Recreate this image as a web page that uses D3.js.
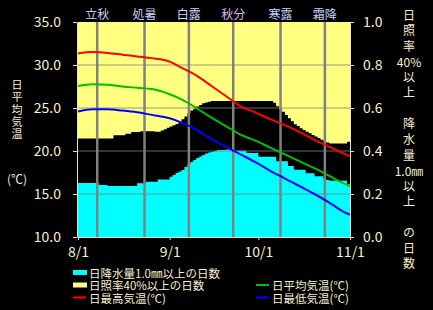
<!DOCTYPE html>
<html>
<head>
<meta charset="utf-8">
<script src="https://cdn.jsdelivr.net/npm/d3@7"></script>
<style>
body { margin: 0; background: #000; }
text { font-family: "Noto Sans CJK JP", "Noto Sans", sans-serif; fill: #f5efcf; }
.vert { writing-mode: vertical-rl; text-orientation: upright; }
</style>
</head>
<body>
<svg id="chart" width="433" height="310"></svg>
<script>
// daily share of days (Aug 1 .. Oct 31)
var sunnyRatio = [
  0.542,0.542,0.542,0.542,0.542,0.542,0.542,0.542,0.542,0.542,0.542,0.542,
  0.527,0.527,0.527,0.527,0.520,0.520,0.512,0.512,0.512,
  0.508,0.508,0.508,0.508,0.508,0.510,0.510,
  0.505,0.499,0.492,0.486,0.480,0.474,0.466,0.452,0.440,0.424,0.412,0.403,0.393,0.386,0.378,0.374,0.371,
  0.368,0.368,0.368,0.368,0.368,0.368,0.368,0.368,0.368,0.368,0.368,0.368,0.368,0.368,0.368,0.368,0.368,0.368,0.368,0.368,0.368,
  0.376,0.392,0.405,0.418,0.432,0.448,0.462,0.475,0.484,0.494,0.502,0.510,0.518,0.525,0.533,0.540,0.548,0.556,0.561,
  0.565,0.565,0.565,0.565,0.565,0.565,0.557
];
var rainRatio = [
  0.251,0.251,0.251,0.251,0.251,0.251,0.251,0.242,0.242,0.242,
  0.237,0.237,0.237,0.237,0.237,0.237,0.237,0.237,0.237,0.237,
  0.250,0.250,0.250,0.257,0.257,0.257,0.257,0.268,0.268,0.268,0.268,
  0.280,0.288,0.298,0.305,0.312,0.326,0.340,0.349,0.358,0.367,0.374,0.381,0.388,0.393,0.397,0.400,
  0.405,0.405,0.405,0.407,0.407,0.407,0.401,0.401,0.401,0.401,0.391,0.391,0.391,0.391,
  0.373,0.373,0.373,0.373,0.373,0.373,0.352,0.352,0.352,0.352,0.330,0.330,
  0.313,0.313,0.313,0.313,0.297,0.297,0.297,0.282,0.282,0.282,0.270,0.265,
  0.262,0.262,0.262,0.262,0.262,0.262,0.245
];

// temperatures, sampled at day offsets from Aug 1
var tempDays = [0,5,10,15,20,25,31,35,40,45,50,55,60,65,70,75,80,85,90,92];
var tempMax = [31.35,31.5,31.4,31.2,31.0,30.8,30.4,29.7,28.8,27.6,26.4,25.2,24.5,23.7,23.0,22.2,21.3,20.5,19.7,19.4];
var tempAvg = [27.55,27.75,27.7,27.5,27.35,27.2,26.6,26.0,25.0,23.9,22.9,21.9,21.2,20.4,19.6,18.8,18.0,17.1,16.2,15.9];
var tempMin = [24.6,24.85,24.85,24.7,24.5,24.2,23.8,23.3,22.5,21.4,20.5,19.6,18.7,17.7,16.8,15.9,15.0,14.0,12.9,12.6];

var sekkiNames = ["立秋","処暑","白露","秋分","寒露","霜降"];
var sekkiDates = ["2021-08-07 12","2021-08-23 12","2021-09-07 12","2021-09-22 12","2021-10-08 12","2021-10-23 12"];
var sekkiColors = ["#c4d0f8","#c4d0f8","#c8d8f8","#e2b2f4","#c4d0f8","#c4d0f8"];

var monthTicks = ["2021-08-01","2021-09-01","2021-10-01","2021-11-01"];
var tempTicks = [10,15,20,25,30,35];
var ratioTicks = [0,0.2,0.4,0.6,0.8,1.0];
var gridTemps = [15,20,25,30];

var leftTitle = "日平均気温";
var rightTitle = ["日","照","率","40%","以","上","","降","水","量","1.0㎜","以","上","","の","日","数"];

var parseDay = d3.timeParse("%Y-%m-%d");
var parseHour = d3.timeParse("%Y-%m-%d %H");
var start = parseDay("2021-08-01");

var svg = d3.select("#chart");
var cream = "#e8e0c0";

var x = d3.scaleTime().domain([start, parseDay("2021-11-01")]).range([78, 350]);
var yT = d3.scaleLinear().domain([10, 35]).range([237, 22]);
var yR = d3.scaleLinear().domain([0, 1]).range([237, 22]);

function daily(arr) {
    var pts = arr.map(function (v, i) { return {date: d3.timeDay.offset(start, i), v: v}; });
    pts.push({date: d3.timeDay.offset(start, arr.length), v: arr[arr.length - 1]});
    return pts;
}

// sunny days share, hanging from the top
svg.append("path")
    .datum(daily(sunnyRatio))
    .attr("fill", "#ffff80")
    .attr("d", d3.area().curve(d3.curveStepAfter)
        .x(function (d) { return x(d.date); })
        .y0(function (d) { return yR(1 - d.v); })
        .y1(yR(1)));

// rainy days share, from the bottom
svg.append("path")
    .datum(daily(rainRatio))
    .attr("fill", "#00ffff")
    .attr("d", d3.area().curve(d3.curveStepAfter)
        .x(function (d) { return x(d.date); })
        .y0(yR(0))
        .y1(function (d) { return yR(d.v); }));

svg.append("g").selectAll("line")
    .data(gridTemps)
    .join("line")
    .attr("x1", 78).attr("x2", 350)
    .attr("y1", function (d) { return yT(d); })
    .attr("y2", function (d) { return yT(d); })
    .attr("stroke", "#808080")
    .attr("stroke-opacity", 0.4)
    .attr("stroke-width", 2);

var sekki = sekkiNames.map(function (n, i) { return {name: n, date: parseHour(sekkiDates[i]), color: sekkiColors[i]}; });

svg.append("g").selectAll("line")
    .data(sekki)
    .join("line")
    .attr("x1", function (d) { return x(d.date); })
    .attr("x2", function (d) { return x(d.date); })
    .attr("y1", 22).attr("y2", 237)
    .attr("stroke", "#808080")
    .attr("stroke-width", 2.5);

svg.append("g").selectAll("text")
    .data(sekki)
    .join("text")
    .attr("x", function (d) { return x(d.date); })
    .attr("y", 13)
    .attr("text-anchor", "middle")
    .attr("dominant-baseline", "central")
    .style("font-size", "12px")
    .style("fill", function (d) { return d.color; })
    .text(function (d) { return d.name; });

function drawTemp(vals, color) {
    var pts = tempDays.map(function (d, i) { return {date: d3.timeDay.offset(start, d), v: vals[i]}; });
    svg.append("path")
        .datum(pts)
        .attr("fill", "none")
        .attr("stroke", color)
        .attr("stroke-width", 2)
        .attr("d", d3.line().curve(d3.curveMonotoneX)
            .x(function (d) { return x(d.date); })
            .y(function (d) { return yT(d.v); }));
}
drawTemp(tempMax, "#ff0000");
drawTemp(tempAvg, "#00c000");
drawTemp(tempMin, "#0000ff");

// axes
function styleAxis(g) {
    g.selectAll("path, line").attr("stroke", cream);
    g.selectAll("text").attr("fill", "#f5efcf").style("font-size", "14px")
        .style("font-family", "\"Noto Sans CJK JP\", sans-serif");
}

svg.append("g")
    .attr("transform", "translate(77,0)")
    .call(d3.axisLeft(yT).tickValues(tempTicks).tickFormat(d3.format(".1f")).tickSize(4).tickSizeOuter(0).tickPadding(12))
    .call(styleAxis);

svg.append("g")
    .attr("transform", "translate(350,0)")
    .call(d3.axisRight(yR).tickValues(ratioTicks).tickFormat(d3.format(".1f")).tickSize(4).tickSizeOuter(0).tickPadding(9))
    .call(styleAxis);

svg.append("g")
    .attr("transform", "translate(0,237)")
    .call(d3.axisBottom(x).tickValues(monthTicks.map(parseDay)).tickFormat(d3.timeFormat("%-m/%-d")).tickSize(3).tickSizeOuter(0).tickPadding(7))
    .call(styleAxis);

// left title, one vertical run
svg.append("text")
    .attr("class", "vert")
    .attr("x", 17)
    .attr("y", 79.5)
    .style("font-size", "11px")
    .style("letter-spacing", "1.3px")
    .text(leftTitle);

svg.append("text")
    .attr("x", 17).attr("y", 178)
    .attr("text-anchor", "middle")
    .attr("dominant-baseline", "central")
    .style("font-size", "12px")
    .text("(℃)");

// right title: single characters grouped into vertical runs, wide rows horizontal
var rowStep = 15.55, rowTop = 15;
var runs = [], cur = null;
rightTitle.forEach(function (t, i) {
    if (t.length === 1) {
        if (!cur) { cur = {text: "", row: i, vert: true}; runs.push(cur); }
        cur.text += t;
    } else {
        cur = null;
        if (t.length > 1) runs.push({text: t, row: i, vert: false});
    }
});

runs.forEach(function (r) {
    var t = svg.append("text").style("font-size", "12px").text(r.text);
    if (r.vert) {
        t.attr("class", "vert")
            .attr("x", 409)
            .attr("y", rowTop + r.row * rowStep - 6)
            .style("letter-spacing", (rowStep - 12) + "px");
    } else {
        t.attr("x", 409)
            .attr("y", rowTop + r.row * rowStep)
            .attr("text-anchor", "middle")
            .attr("dominant-baseline", "central");
    }
});

// legend
var legendLabels = ["日降水量1.0㎜以上の日数","日照率40%以上の日数","日平均気温(℃)","日最高気温(℃)","日最低気温(℃)"];
var legendColors = ["#00ffff","#ffff80","#00c000","#ff0000","#0000ff"];
var legendKinds = ["rect","rect","line","line","line"];
var legendCols = [73, 73, 256, 73, 256];
var legendRows = [272.5, 285, 285, 297.5, 297.5];

var leg = svg.append("g").selectAll("g")
    .data(legendLabels)
    .join("g")
    .attr("transform", function (d, i) { return "translate(" + legendCols[i] + "," + legendRows[i] + ")"; });

leg.each(function (d, i) {
    var g = d3.select(this);
    if (legendKinds[i] === "rect") {
        g.append("rect").attr("x", 0).attr("y", -2.5).attr("width", 14).attr("height", 5).attr("fill", legendColors[i]);
    } else {
        g.append("line").attr("x1", 0).attr("x2", 13).attr("y1", 0).attr("y2", 0)
            .attr("stroke", legendColors[i]).attr("stroke-width", 2);
    }
    g.append("text")
        .attr("x", 16)
        .attr("y", 0)
        .attr("dominant-baseline", "central")
        .style("font-size", "11.5px")
        .text(d);
});
</script>
</body>
</html>
